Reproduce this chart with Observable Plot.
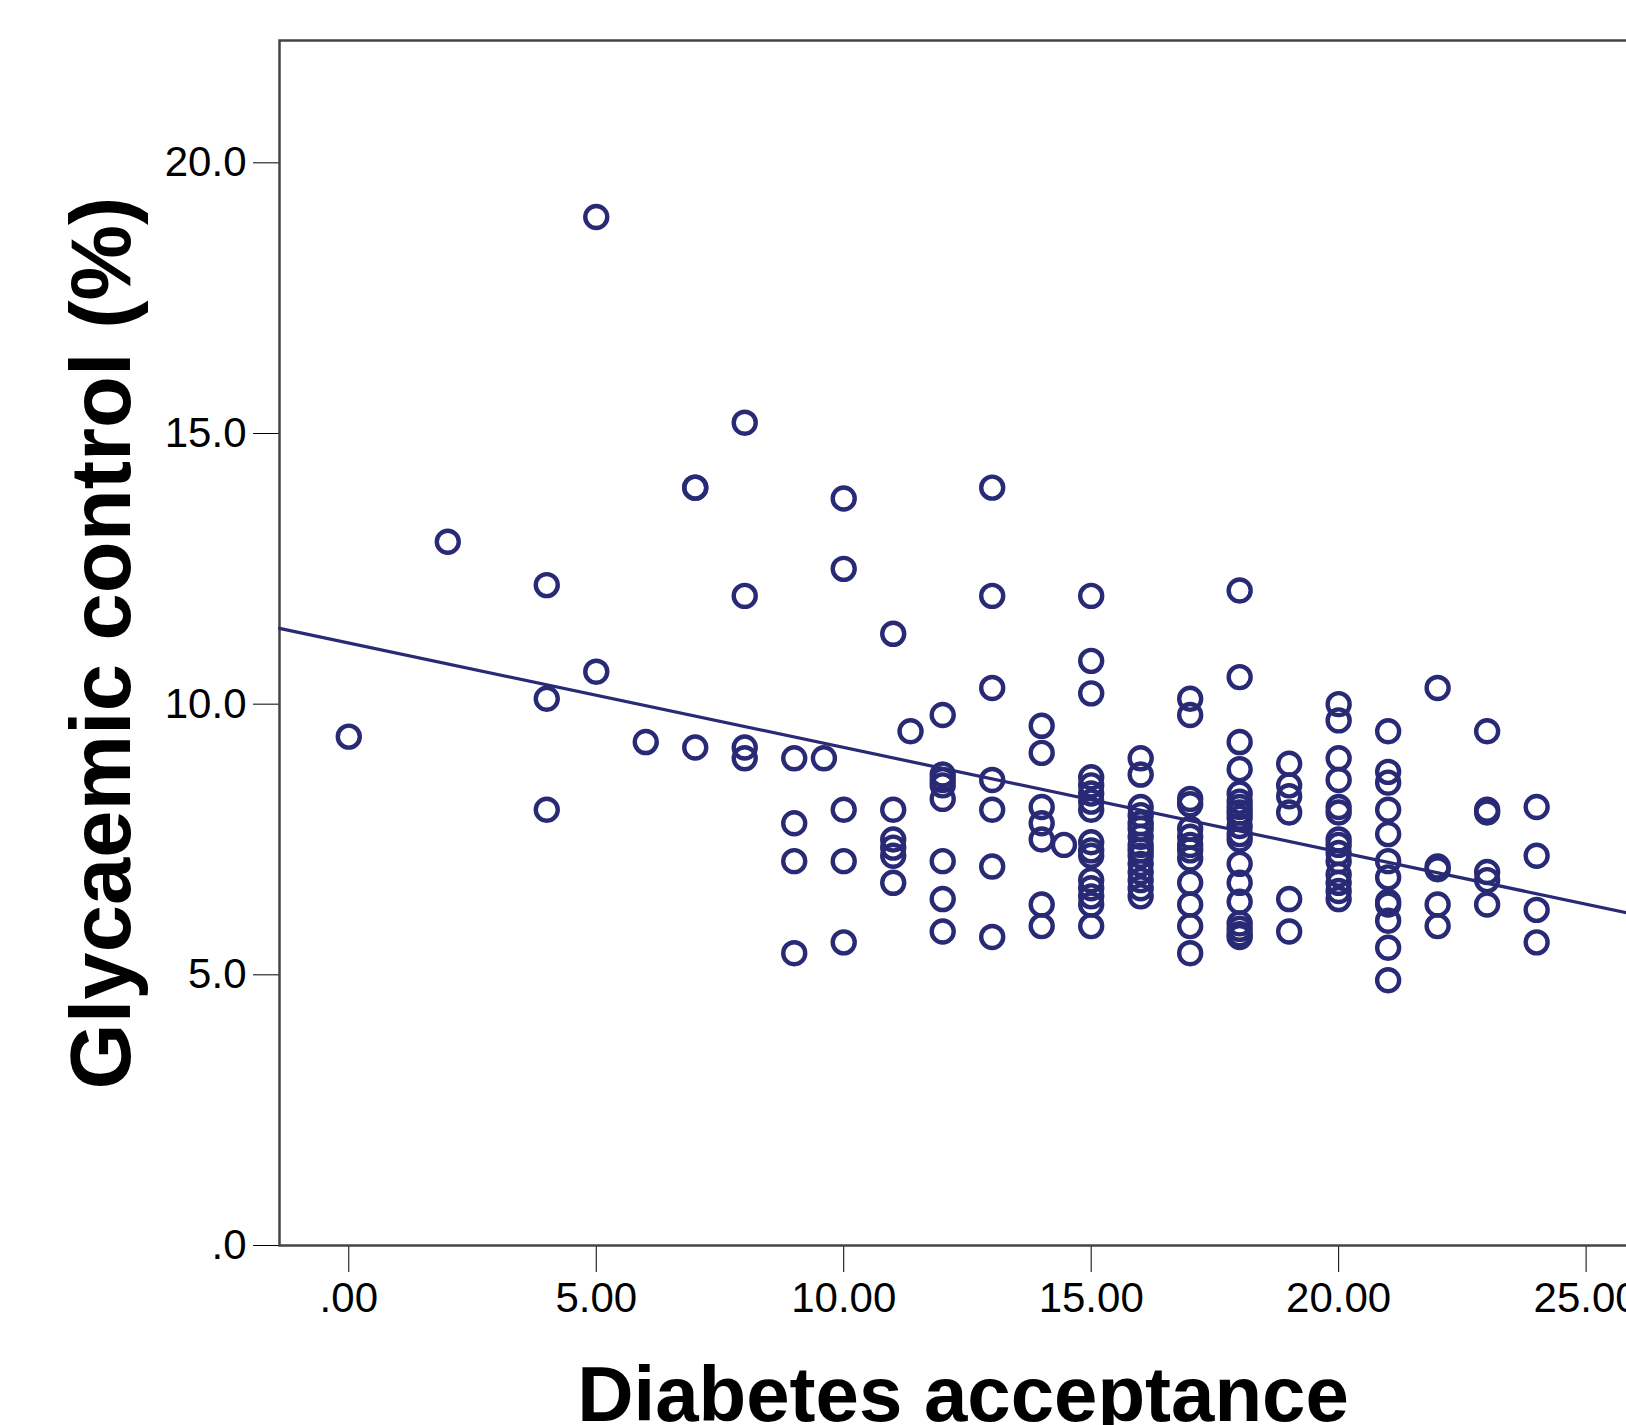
<!DOCTYPE html>
<html><head><meta charset="utf-8">
<script src="https://cdn.jsdelivr.net/npm/d3@7"></script>
<script src="https://cdn.jsdelivr.net/npm/@observablehq/plot@0.6"></script>
<style>
html,body{margin:0;padding:0;background:#fff;overflow:hidden;}
#chart{width:1626px;height:1425px;overflow:hidden;position:relative;}
</style></head><body><div id="chart"></div>
<script>
// Diabetes acceptance score (x) and glycaemic control values (y) at each score
const acceptanceLevels = [0, 2, 4, 5, 6, 7, 8, 9, 9.6, 10, 11, 11.35, 12, 13, 14, 14.45, 15, 16, 17, 18, 19, 20, 21, 22, 23, 24];
const glycaemicAt0 = [9.4];
const glycaemicAt2 = [13.0];
const glycaemicAt4 = [12.2, 10.1, 8.05];
const glycaemicAt5 = [19.0, 10.6];
const glycaemicAt6 = [9.3];
const glycaemicAt7 = [14.0, 14.0, 9.2];
const glycaemicAt8 = [15.2, 12.0, 9.2, 9.0];
const glycaemicAt9 = [9.0, 7.8, 7.1, 5.4];
const glycaemicAt9_6 = [9.0];
const glycaemicAt10 = [13.8, 12.5, 8.05, 7.1, 5.6];
const glycaemicAt11 = [11.3, 8.05, 7.5, 7.35, 7.2, 6.7];
const glycaemicAt11_35 = [9.5];
const glycaemicAt12 = [9.8, 8.7, 8.6, 8.5, 8.25, 7.1, 6.4, 5.8];
const glycaemicAt13 = [14.0, 12.0, 10.3, 8.6, 8.05, 7.0, 5.7];
const glycaemicAt14 = [9.6, 9.1, 8.1, 7.8, 7.5, 6.3, 5.9];
const glycaemicAt14_45 = [7.4];
const glycaemicAt15 = [12.0, 10.8, 10.2, 8.65, 8.5, 8.35, 8.2, 8.05, 7.45, 7.3, 7.2, 6.75, 6.6, 6.45, 6.3, 5.9];
const glycaemicAt16 = [9.0, 8.7, 8.1, 7.95, 7.8, 7.7, 7.55, 7.4, 7.3, 7.2, 7.05, 6.9, 6.75, 6.6, 6.45];
const glycaemicAt17 = [10.1, 9.8, 8.25, 8.15, 7.7, 7.55, 7.4, 7.3, 7.15, 6.7, 6.3, 5.9, 5.4];
const glycaemicAt18 = [12.1, 10.5, 9.3, 8.8, 8.35, 8.2, 8.1, 8.0, 7.9, 7.75, 7.6, 7.5, 7.05, 6.7, 6.35, 5.95, 5.85, 5.75, 5.7];
const glycaemicAt19 = [8.9, 8.5, 8.3, 8.0, 6.4, 5.8];
const glycaemicAt20 = [10.0, 9.7, 9.0, 8.6, 8.1, 8.0, 7.5, 7.4, 7.25, 7.1, 6.85, 6.7, 6.55, 6.4];
const glycaemicAt21 = [9.5, 8.75, 8.55, 8.05, 7.6, 7.1, 6.8, 6.35, 6.3, 6.0, 5.5, 4.9];
const glycaemicAt22 = [10.3, 7.0, 6.95, 6.3, 5.9];
const glycaemicAt23 = [9.5, 8.05, 8.0, 6.9, 6.75, 6.3];
const glycaemicAt24 = [8.1, 7.2, 6.2, 5.6];

const glycaemicByLevel = [glycaemicAt0, glycaemicAt2, glycaemicAt4, glycaemicAt5, glycaemicAt6, glycaemicAt7,
  glycaemicAt8, glycaemicAt9, glycaemicAt9_6, glycaemicAt10, glycaemicAt11, glycaemicAt11_35, glycaemicAt12,
  glycaemicAt13, glycaemicAt14, glycaemicAt14_45, glycaemicAt15, glycaemicAt16, glycaemicAt17, glycaemicAt18,
  glycaemicAt19, glycaemicAt20, glycaemicAt21, glycaemicAt22, glycaemicAt23, glycaemicAt24];

// Fitted regression line
const fitIntercept = 11.13;
const fitSlope = -0.193;

const xTicks = [0, 5, 10, 15, 20, 25];
const yTicks = [0, 5, 10, 15, 20];
const xDomain = [-1.4, 26.22];
const yDomain = [0, 22.26];
const xTitle = "Diabetes acceptance";
const yTitle = "Glycaemic control (%)";

const points = acceptanceLevels.flatMap((a, i) => glycaemicByLevel[i].map(g => ({acceptance: a, glycaemic: g})));
const fitLine = xDomain.map(a => ({acceptance: a, glycaemic: fitIntercept + fitSlope * a}));

const navy = "#292a75";
const fmtX = v => d3.format(".2f")(v).replace(/^0\./, ".");
const fmtY = v => d3.format(".1f")(v).replace(/^0\./, ".");

const chart = Plot.plot({
  width: 1666, height: 1425,
  marginLeft: 279, marginRight: 20, marginTop: 40, marginBottom: 180,
  style: {fontFamily: "'Liberation Sans', Arial, sans-serif", fontSize: "42px", color: "#000", background: "#fff", maxWidth: "none", overflow: "visible"},
  x: {domain: xDomain, ticks: xTicks, tickFormat: fmtX, tickSize: 27, tickPadding: 10, label: null},
  y: {domain: yDomain, ticks: yTicks, tickFormat: fmtY, tickSize: 26, tickPadding: 7, label: null},
  marks: [
    Plot.frame({stroke: "#444", strokeWidth: 2.5}),
    Plot.line(fitLine, {x: "acceptance", y: "glycaemic", stroke: navy, strokeWidth: 3.2}),
    Plot.dot(points, {x: "acceptance", y: "glycaemic", r: 11, stroke: navy, strokeWidth: 4.4, fill: "none"}),
    Plot.text([xTitle], {frameAnchor: "bottom", dy: 175, lineAnchor: "bottom", fontSize: 78, fontWeight: "bold", fill: "#000"}),
    Plot.text([yTitle], {frameAnchor: "left", dx: -150, rotate: -90, textAnchor: "middle", lineAnchor: "bottom", fontSize: 85, fontWeight: "bold", fill: "#000"})
  ]
});
document.getElementById("chart").appendChild(chart);
</script>
</body></html>
